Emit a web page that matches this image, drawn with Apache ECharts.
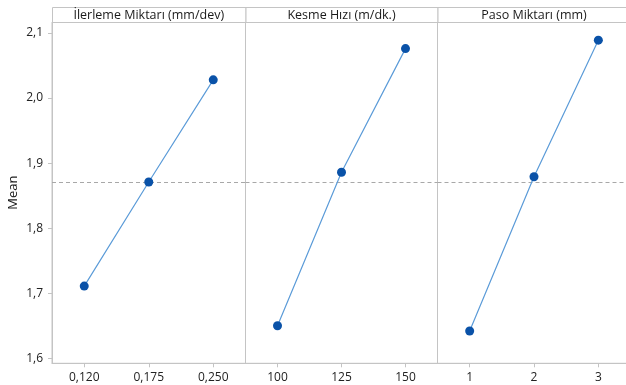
<!DOCTYPE html>
<html><head><meta charset="utf-8">
<script src="https://cdn.jsdelivr.net/npm/echarts@6/dist/echarts.min.js"></script>
<style>html,body{margin:0;padding:0;background:#fff}#c{width:626px;height:385px}</style>
</head><body><div id="c"></div>
<script>
const panelTitles = ['İlerleme Miktarı (mm/dev)', 'Kesme Hızı (m/dk.)', 'Paso Miktarı (mm)'];
const cats1 = ['0,120', '0,175', '0,250'];
const vals1 = [1.711, 1.871, 2.028];
const cats2 = ['100', '125', '150'];
const vals2 = [1.650, 1.886, 2.076];
const cats3 = ['1', '2', '3'];
const vals3 = [1.642, 1.879, 2.089];
const grandMean = 1.870;
const yTicks = [1.6, 1.7, 1.8, 1.9, 2.0, 2.1];
const yName = 'Mean';

const cats = [cats1, cats2, cats3];
const vals = [vals1, vals2, vals3];
const FONT = '"Open Sans", "Noto Sans", sans-serif';
const BORDER = '#c4c4c4';
const lefts = [52, 245.5, 437.5];
const widths = [193.5, 192, 193];
const gTop = 22, gBottom = 385 - 363.3;
const yMin = 1.5923, yMax = 2.1169;

const grids = [], xAxes = [], yAxes = [], series = [], graphics = [];
for (let i = 0; i < 3; i++) {
  grids.push({left: lefts[i], top: gTop, width: widths[i], bottom: gBottom, show: true, borderColor: BORDER, borderWidth: 1, backgroundColor: 'transparent', outerBoundsMode: 'none', containLabel: false});
  xAxes.push({
    type: 'category', gridIndex: i, data: cats[i], boundaryGap: true,
    axisLine: {show: true, lineStyle: {color: BORDER}},
    axisTick: {show: true, alignWithLabel: true, length: 4, lineStyle: {color: BORDER}},
    axisLabel: {color: '#222', fontFamily: FONT, fontSize: 12, margin: 8}
  });
  yAxes.push({
    type: 'value', gridIndex: i, min: yMin, max: yMax,
    name: i === 0 ? yName : '', nameLocation: 'middle', nameGap: 32, nameRotate: 90,
    nameTextStyle: {color: '#1a1a1a', fontFamily: FONT, fontSize: 13},
    splitLine: {show: false},
    axisLine: {show: i === 0, lineStyle: {color: BORDER}},
    axisTick: {show: i === 0, length: 4, customValues: yTicks, lineStyle: {color: BORDER}},
    axisLabel: {show: i === 0, customValues: yTicks, color: '#222', fontFamily: FONT, fontSize: 12, margin: 9,
      formatter: v => v.toFixed(1).replace('.', ',')}
  });
  series.push({
    type: 'line', xAxisIndex: i, yAxisIndex: i, data: vals[i],
    symbol: 'circle', symbolSize: 9,
    lineStyle: {color: '#5b9bd8', width: 1.2},
    itemStyle: {color: '#0a52a8'},
    z: 3,
    markLine: {
      silent: true, symbol: 'none', label: {show: false},
      lineStyle: {color: '#a8a8a8', type: [4, 3], width: 1},
      data: [{yAxis: grandMean}], z: 1
    }
  });
  graphics.push({
    type: 'rect', left: lefts[i], top: 7,
    shape: {width: widths[i], height: 15},
    style: {fill: '#fff', stroke: BORDER, lineWidth: 1}
  });
  graphics.push({
    type: 'text', x: lefts[i] + widths[i] / 2, y: 15,
    style: {text: panelTitles[i], fill: '#1a1a1a', font: '12.5px ' + FONT, textAlign: 'center', textVerticalAlign: 'middle'}
  });
}

const chart = echarts.init(document.getElementById('c'), null, {renderer: 'canvas'});
chart.setOption({
  animation: false,
  backgroundColor: '#fff',
  grid: grids, xAxis: xAxes, yAxis: yAxes, series: series,
  graphic: graphics
});
</script></body></html>
